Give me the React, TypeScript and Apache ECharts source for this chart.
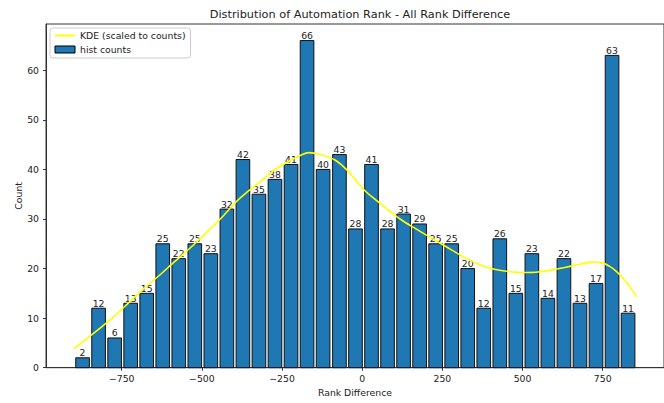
import React, { useEffect, useRef } from "react";
import * as echarts from "echarts";

const binCenters = [
  -872, -822, -772, -722, -672, -622, -572, -522, -472, -422,
  -372, -322, -272, -222, -172, -122, -71, -21, 29, 79,
  129, 179, 229, 279, 329, 379, 429, 479, 529, 579,
  629, 679, 729, 779, 829,
];
const counts = [
  2, 12, 6, 13, 15, 25, 22, 25, 23, 32,
  42, 35, 38, 41, 66, 40, 43, 28, 41, 28,
  31, 29, 25, 25, 20, 12, 26, 15, 23, 14,
  22, 13, 17, 63, 11,
];
const kdeX = [
  -900, -840, -780, -738, -680, -633, -585, -534, -480, -432,
  -391, -350, -320, -280, -238, -200, -167, -130, -85, -48,
  7, 49, 89, 125, 160, 191, 230, 262, 320, 365,
  401, 467, 503, 548, 606, 660, 717, 745, 773, 795,
  814, 835, 855,
];
const kdeY = [
  3.8, 6.8, 10.0, 12.5, 16.0, 18.6, 21.4, 24.3, 27.6, 30.7,
  33.6, 35.9, 37.4, 39.6, 41.3, 42.6, 43.4, 43.0, 41.9, 39.9,
  35.8, 33.5, 31.4, 29.7, 28.3, 27.1, 25.6, 24.4, 22.2, 20.8,
  20.0, 19.3, 19.2, 19.3, 19.9, 20.6, 21.3, 21.2, 20.4, 19.3,
  18.0, 16.3, 14.3,
];
const xTicks = [-750, -500, -250, 0, 250, 500, 750];
const yTicks = [0, 10, 20, 30, 40, 50, 60];

const FONT = "DejaVu Sans";
const TXT = "#222";
const FS = 9.3;
const BAR_HALF = 21.26;

export default function App() {
  const ref = useRef<HTMLDivElement>(null);
  useEffect(() => {
    if (!ref.current) return;
    const chart = echarts.init(ref.current, undefined, { renderer: "svg" });
    const option: any = {
      animation: false,
      backgroundColor: "#fff",
      title: {
        text: "Distribution of Automation Rank - All Rank Difference",
        left: 355,
        top: 3.5,
        textAlign: "center",
        textStyle: { fontFamily: FONT, fontSize: 11.3, fontWeight: "normal", color: TXT },
      },
      legend: {
        orient: "vertical",
        left: 50,
        top: 28,
        padding: [3, 5, 4, 4],
        itemGap: 5,
        itemWidth: 20,
        itemHeight: 7,
        backgroundColor: "rgba(255,255,255,0.8)",
        borderColor: "#ccc",
        borderWidth: 1,
        borderRadius: 3,
        textStyle: { fontFamily: FONT, fontSize: FS, color: TXT },
        data: [
          {
            name: "KDE (scaled to counts)",
            itemStyle: { color: "transparent", borderColor: "transparent", borderWidth: 0 },
          },
          {
            name: "hist counts",
            icon: "rect",
            itemStyle: { color: "#1f77b4", borderColor: "#000", borderWidth: 1 },
          },
        ],
      },
      grid: {
        left: 46,
        top: 24,
        width: 628.7,
        height: 343.7,
        show: true,
        borderColor: "#333",
        borderWidth: 1,
        backgroundColor: "transparent",
      },
      xAxis: {
        type: "value",
        min: -986,
        max: 941,
        name: "Rank Difference",
        nameLocation: "middle",
        nameGap: 20,
        nameMoveOverlap: false,
        nameTextStyle: { fontFamily: FONT, fontSize: FS, color: TXT },
        axisLine: { show: true, onZero: false, lineStyle: { color: "#333", width: 1 } },
        axisTick: { show: true, length: 3, lineStyle: { color: "#333" }, customValues: xTicks },
        axisLabel: {
          customValues: xTicks,
          margin: 6,
          fontFamily: FONT,
          fontSize: FS,
          color: TXT,
          formatter: (v: number) => (v < 0 ? "\u2212" + Math.abs(v) : String(v)),
        },
        splitLine: { show: false },
      },
      yAxis: {
        type: "value",
        min: 0,
        max: 69.34,
        name: "Count",
        nameLocation: "middle",
        nameGap: 23,
        nameRotate: 90,
        nameMoveOverlap: false,
        nameTextStyle: { fontFamily: FONT, fontSize: FS, color: TXT },
        axisLine: { show: true, onZero: false, lineStyle: { color: "#333", width: 1 } },
        axisTick: { show: true, length: 3, lineStyle: { color: "#333" }, customValues: yTicks },
        axisLabel: {
          customValues: yTicks,
          margin: 7,
          fontFamily: FONT,
          fontSize: FS,
          color: TXT,
        },
        splitLine: { show: false },
      },
      series: [
        {
          name: "hist counts",
          type: "custom",
          z: 2,
          itemStyle: { color: "#1f77b4" },
          encode: { x: 0, y: 1 },
          data: binCenters.map((c, i) => [c, counts[i]]),
          renderItem: (params: any, api: any) => {
            const x = api.value(0);
            const y = api.value(1);
            const p0 = api.coord([x - BAR_HALF, y]);
            const p1 = api.coord([x + BAR_HALF, 0]);
            return {
              type: "group",
              children: [
                {
                  type: "rect",
                  shape: { x: p0[0], y: p0[1], width: p1[0] - p0[0], height: p1[1] - p0[1] },
                  style: { fill: "#1f77b4", stroke: "#111", lineWidth: 1 },
                },
                {
                  type: "text",
                  x: (p0[0] + p1[0]) / 2,
                  y: p0[1] - 0.5,
                  style: {
                    text: String(y),
                    align: "center",
                    verticalAlign: "bottom",
                    fontFamily: FONT,
                    fontSize: FS,
                    fill: TXT,
                  },
                },
              ],
            };
          },
        },
        {
          name: "KDE (scaled to counts)",
          type: "line",
          z: 5,
          symbol: "none",
          smooth: 0.3,
          lineStyle: { color: "#ffff00", width: 1.6 },
          itemStyle: { color: "#ffff00" },
          data: kdeX.map((x, i) => [x, kdeY[i]]),
        },
      ],
    };
    chart.setOption(option);
    return () => chart.dispose();
  }, []);
  return (
    <div
      ref={ref}
      style={{ position: "fixed", left: 0, top: 0, width: 664, height: 403 }}
    />
  );
}
